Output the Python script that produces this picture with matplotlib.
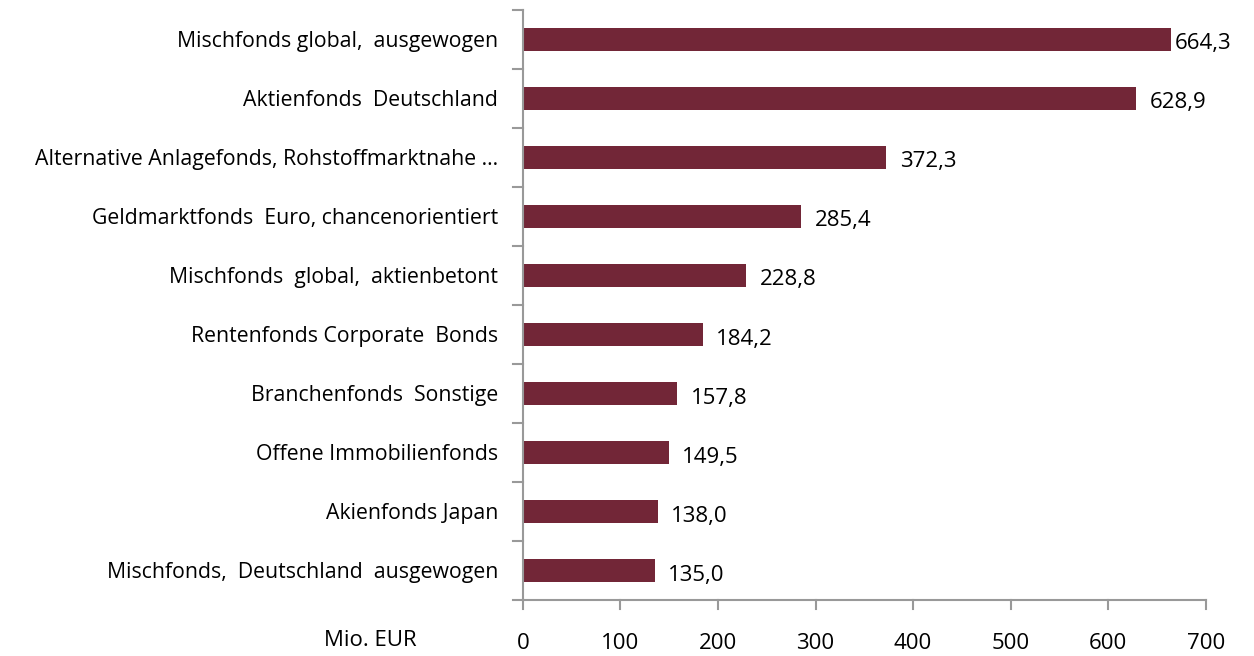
import matplotlib
matplotlib.use("Agg")
import matplotlib.pyplot as plt

categories = [
    "Mischfonds global,  ausgewogen",
    "Aktienfonds  Deutschland",
    "Alternative Anlagefonds, Rohstoffmarktnahe ...",
    "Geldmarktfonds  Euro, chancenorientiert",
    "Mischfonds  global,  aktienbetont",
    "Rentenfonds Corporate  Bonds",
    "Branchenfonds  Sonstige",
    "Offene Immobilienfonds",
    "Akienfonds Japan",
    "Mischfonds,  Deutschland  ausgewogen",
]
values = [664.3, 628.9, 372.3, 285.4, 228.8, 184.2, 157.8, 149.5, 138.0, 135.0]
xticks = [0, 100, 200, 300, 400, 500, 600, 700]
unit_label = "Mio. EUR"

plt.rcParams['font.family'] = ['Open Sans', 'DejaVu Sans']

fig = plt.figure(figsize=(12.54, 6.56), dpi=100)
ax = fig.add_axes([0.417, 0.0854, 0.5445, 0.9])

n = len(categories)
ypos = list(range(n))[::-1]
color = "#722637"
ax.barh(ypos, values, height=0.39, color=color)
for y, v in zip(ypos, values):
    off = 4 if v > 650 else 14
    ax.text(v + off, y - 0.08, f"{v:.1f}".replace(".", ","), va="center", ha="left",
            fontsize=16, color="black")

ax.set_xlim(0, 700)
ax.set_ylim(-0.5, n - 0.5)
ax.set_xticks(xticks)
ax.set_xticklabels([str(t) for t in xticks], fontsize=16)
ax.set_yticks(ypos)
ax.set_yticklabels(categories, fontsize=15.3)
ax.tick_params(axis='y', length=0, pad=18)
ax.tick_params(axis='x', length=0, pad=24)

# boundary tick marks
for b in [i - 0.5 for i in range(n + 1)]:
    ax.plot([-0.015, 0], [b, b], transform=ax.get_yaxis_transform(), color="#999999", lw=1.5, clip_on=False)
for t in xticks:
    ax.plot([t, t], [0, -0.015], transform=ax.get_xaxis_transform(), color="#999999", lw=1.5, clip_on=False)

for s in ["top", "right"]:
    ax.spines[s].set_visible(False)
for s in ["left", "bottom"]:
    ax.spines[s].set_color("#999999")
    ax.spines[s].set_linewidth(1.5)

fig.text(370 / 1254, 1 - 640 / 656, unit_label, ha="center", va="center", fontsize=16)

fig.savefig("out.png", dpi=100)
